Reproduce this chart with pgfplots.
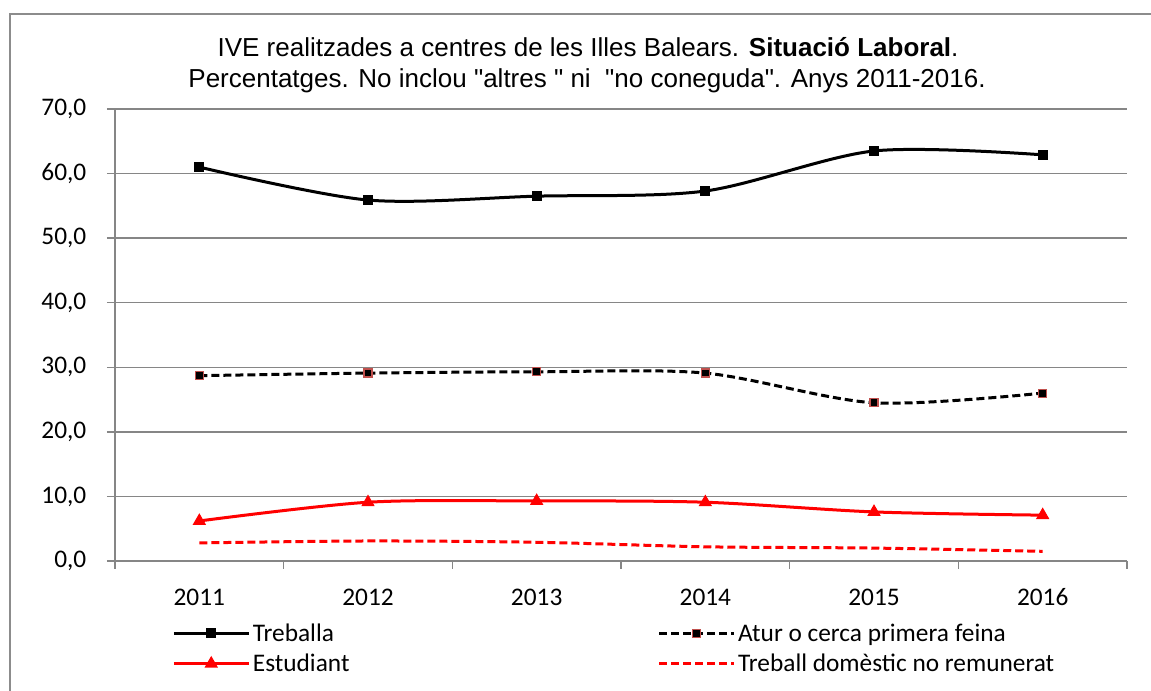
\documentclass[border=0pt]{standalone}
\usepackage{fontspec}
\setmainfont{Carlito}
\newfontfamily\arialf{Liberation Sans}
\usepackage{pgfplots}
\pgfplotsset{compat=1.18}
\definecolor{gridgray}{RGB}{134,134,134}
\definecolor{framegray}{RGB}{140,140,140}
\definecolor{mkred}{RGB}{192,80,77}
\begin{document}
\begin{tikzpicture}
\useasboundingbox (0,0) rectangle (863.25pt,518.25pt);
\draw[framegray, line width=1.5pt] (7.5pt,-20pt) -- (7.5pt,507.75pt) -- (880pt,507.75pt);
\node[font=\arialf\fontsize{19.5pt}{22pt}\selectfont, inner sep=0pt] at (441pt,483pt) {IVE realitzades a centres de les Illes Balears. \textbf{Situació Laboral}.};
\node[font=\arialf\fontsize{19.5pt}{22pt}\selectfont, inner sep=0pt] at (440.25pt,458pt) {Percentatges. No inclou "altres " ni\ \ "no coneguda". Anys 2011-2016.};
\begin{axis}[
  at={(86.25pt,97.5pt)}, anchor=south west,
  scale only axis, width=759pt, height=339pt,
  xmin=-0.5, xmax=5.5, ymin=0, ymax=70,
  axis x line*=bottom, axis y line*=left,
  axis line style={gridgray, line width=1.1pt, -},
  xtick={-0.5,0.5,1.5,2.5,3.5,4.5,5.5}, xticklabels={},
  extra x ticks={0,1,2,3,4,5},
  extra x tick labels={2011,2012,2013,2014,2015,2016},
  extra x tick style={major tick length=0pt, grid=none, xticklabel style={anchor=north, yshift=-17pt, text height=13pt, text depth=3pt}},
  ytick={0,10,...,70},
  ymajorgrids, grid style={gridgray, line width=1.1pt},
  tick style={gridgray, line width=1.1pt}, major tick length=6pt, tick align=outside,
  yticklabel style={xshift=-12pt, /pgf/number format/.cd, fixed, fixed zerofill, precision=1, use comma, assume math mode=true},
  ticklabel style={font=\fontsize{19pt}{22pt}\selectfont, text=black},
  legend columns=2,
  legend cell align=left,
  legend style={at={(axis description cs:0.0563,-0.132)}, anchor=north west, draw=none, fill=none, inner sep=0pt,
     font=\fontsize{19pt}{22pt}\selectfont, row sep=4pt,
     /tikz/every even column/.append style={column sep=229pt}},
  legend image code/.code={\draw[mark repeat=2, mark phase=2, #1] plot coordinates {(0pt,0pt) (28.125pt,0pt) (56.25pt,0pt)};},
]
\addplot[black, line width=2.25pt, smooth, mark=square*, mark size=3.4pt, mark options={solid, line width=0.8pt}] coordinates {(0,61.0) (1,55.9) (2,56.5) (3,57.3) (4,63.5) (5,62.9)};
\addlegendentry{Treballa}
\addplot[black, line width=2.25pt, dash pattern=on 6pt off 3pt, smooth, mark=square*, mark size=3pt, mark options={solid, fill=black, draw=mkred, line width=0.9pt}] coordinates {(0,28.7) (1,29.1) (2,29.3) (3,29.1) (4,24.5) (5,26.0)};
\addlegendentry{Atur o cerca primera feina}
\addplot[red, line width=2.25pt, smooth, mark=triangle*, mark size=5pt, mark options={solid, line width=0.8pt}] coordinates {(0,6.2) (1,9.1) (2,9.3) (3,9.1) (4,7.6) (5,7.1)};
\addlegendentry{Estudiant}
\addplot[red, line width=2.25pt, dash pattern=on 6pt off 3pt, smooth] coordinates {(0,2.8) (1,3.1) (2,2.9) (3,2.2) (4,2.0) (5,1.5)};
\addlegendentry{Treball domèstic no remunerat}
\end{axis}
\end{tikzpicture}
\end{document}
